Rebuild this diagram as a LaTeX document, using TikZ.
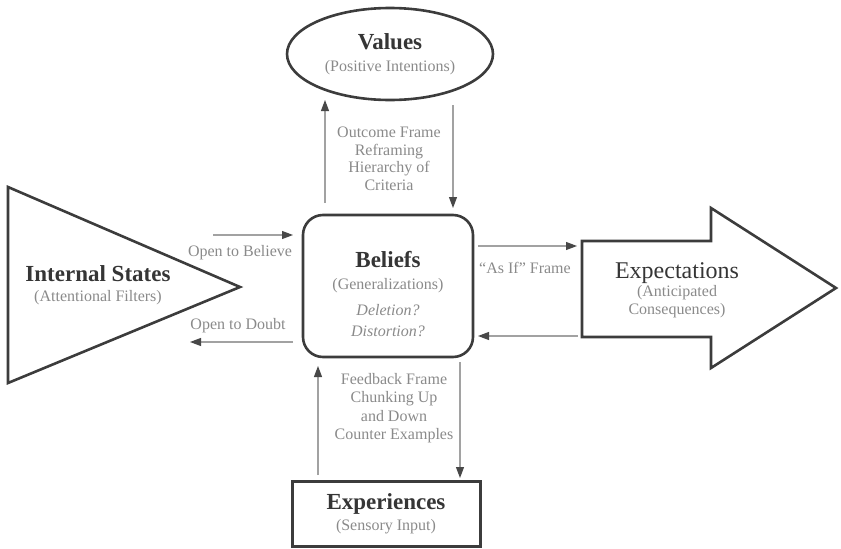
\documentclass[tikz,border=0pt]{standalone}
\usepackage{fontspec}
\setmainfont{Liberation Serif}
\usetikzlibrary{arrows.meta,positioning,shapes.geometric}
\definecolor{edgegray}{HTML}{3C3C3C}
\definecolor{titlegray}{HTML}{353535}
\definecolor{labelgray}{HTML}{8A8A8A}
\definecolor{linegray}{HTML}{A2A2A2}
\definecolor{tipgray}{HTML}{484848}
\newcommand{\ttl}[1]{{\fontsize{23}{26}\selectfont\bfseries\color{titlegray}#1}}
\tikzset{
  outline/.style={draw=edgegray,line width=2.6pt,line join=miter},
  blocktext/.style={align=center,font=\fontsize{16}{18}\selectfont,text=labelgray},
  framelabel/.style={align=center,font=\fontsize{16}{17.5}\selectfont,text=labelgray},
  flowarrow/.style={-{Triangle[length=11pt,width=8pt,color=tipgray]},line width=1.1pt,draw=linegray}
}

\begin{document}
\begin{tikzpicture}[x=1pt,y=-1pt]
\useasboundingbox (0,0) rectangle (841,549);
% the five blocks
\node[outline,ellipse,minimum width=206pt,minimum height=92pt,blocktext] (values) at (390,54)
  {\ttl{Values}\\[4pt](Positive Intentions)};
\node[outline,rectangle,rounded corners=20pt,minimum width=170pt,minimum height=142pt] (beliefs) at (388,286) {};
\node[blocktext] (beliefstext) at (388,294)
  {\ttl{Beliefs}\\[4pt](Generalizations)\\[8pt]\textit{Deletion?}\\[3pt]\textit{Distortion?}};
\node[outline,rectangle,line width=3pt,minimum width=188pt,minimum height=65pt,blocktext] (experiences) at (386,514)
  {\ttl{Experiences}\\[3pt](Sensory Input)};
\draw[outline] (8,187) -- (240,287) -- (8,383) -- cycle;
\node[blocktext] (internal) at (98,285) {\ttl{Internal States}\\[2pt](Attentional Filters)};
\draw[outline] (582,241) -- (711,241) -- (711,208) -- (836,288) -- (711,368) -- (711,337) -- (582,337) -- cycle;
\node[blocktext] (expectations) at (677,290)
  {{\fontsize{24}{26}\selectfont\color{titlegray}Expectations}\\(Anticipated\\Consequences)};

% frame labels
\node[framelabel] (outcomelbl) at (389,159) {Outcome Frame\\Reframing\\Hierarchy of\\Criteria};
\node[framelabel] (feedbacklbl) at (394,408) {Feedback Frame\\[1pt]Chunking Up\\[1pt]and Down\\[1pt]Counter Examples};
\node[framelabel] (believelbl) at (240,253) {Open to Believe};
\node[framelabel] (doubtlbl) at (238,326) {Open to Doubt};
\node[framelabel] (asiflbl) at (525,268) {``As If'' Frame};

% free ends of the connectors
\coordinate (upA) at (325,203);   \coordinate (upB) at (325,100);
\coordinate (dnA) at (453,105);   \coordinate (dnB) at (453,208);
\coordinate (belA) at (213,235);  \coordinate (belB) at (293,235);
\coordinate (dbtA) at (293,342);  \coordinate (dbtB) at (190,342);
\coordinate (expA) at (478,246);  \coordinate (expB) at (577,246);
\coordinate (retA) at (578,336);  \coordinate (retB) at (478,336);
\coordinate (fbA) at (318,475);   \coordinate (fbB) at (318,366);
\coordinate (fdA) at (460,362);   \coordinate (fdB) at (460,478);

\draw[flowarrow] (upA) -- (upB);
\draw[flowarrow] (dnA) -- (dnB);
\draw[flowarrow] (belA) -- (belB);
\draw[flowarrow] (dbtA) -- (dbtB);
\draw[flowarrow] (expA) -- (expB);
\draw[flowarrow] (retA) -- (retB);
\draw[flowarrow] (fbA) -- (fbB);
\draw[flowarrow] (fdA) -- (fdB);
\end{tikzpicture}
\end{document}
